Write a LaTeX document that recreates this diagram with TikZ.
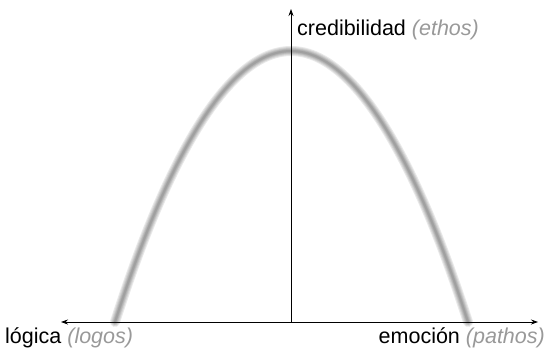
\documentclass[tikz,border=0pt]{standalone}
\usepackage{fontspec}
\setmainfont{Liberation Sans}
\usetikzlibrary{arrows.meta}
\definecolor{soft}{gray}{0.6}
\definecolor{curve}{gray}{0.4}
\begin{document}
\begin{tikzpicture}[x=1pt, y=-1pt,
  every node/.style={font=\fontsize{21.5}{24}\selectfont, inner sep=0pt},
  axis/.style={line width=0.8pt, black},
  axtip/.tip={Stealth[length=7pt,width=5pt]},
  glow/.style={curve, line cap=round, opacity=0.15}]
\useasboundingbox (0,0) rectangle (548,348);
% axes
\coordinate (origin) at (291,322);
\coordinate (left) at (61,322);
\coordinate (right) at (538,322);
\coordinate (top) at (291,9);
% blurred curve
\foreach \w in {10,8,6,4.5,3,2}
  \draw[glow, line width=\w pt] (115,322) parabola bend (291,51) (468,322);
\draw[axis, axtip-axtip] (left) -- (right);
\draw[axis, -axtip] (origin) -- (top);
% labels
\node[anchor=base west] (logica) at (5,343) {lógica \textcolor{soft}{\itshape (logos)}};
\node[anchor=base east] (emocion) at (545,343) {emoción \textcolor{soft}{\itshape (pathos)}};
\node[anchor=base west] (credib) at (297,35) {credibilidad \textcolor{soft}{\itshape (ethos)}};
\end{tikzpicture}
\end{document}
